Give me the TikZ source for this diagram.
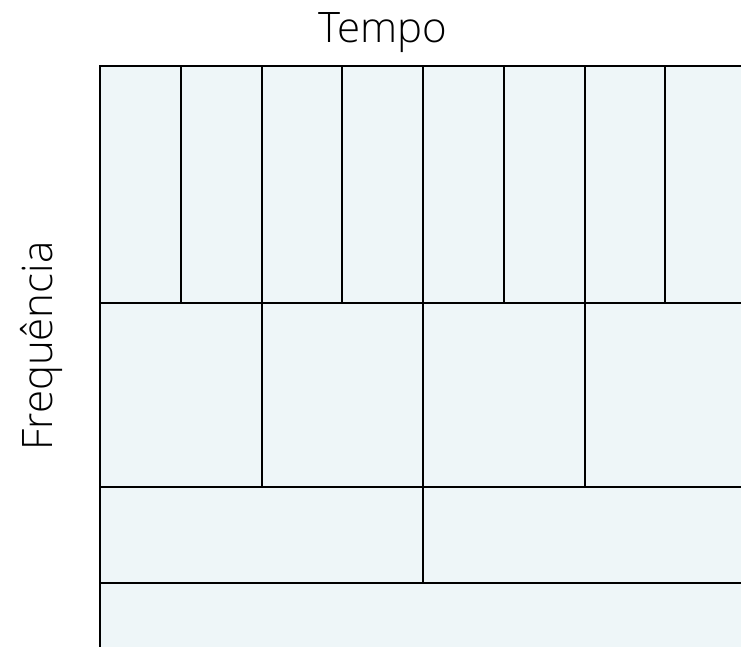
\documentclass[tikz,border=0pt]{standalone}
\usepackage{fontspec}
\setmainfont{Open Sans Light}
\definecolor{cellfill}{HTML}{EEF6F8}
\begin{document}
\begin{tikzpicture}[x=1pt,y=-1pt,
  cell/.style={fill=cellfill,draw=black,line width=2pt},
  lbl/.style={font=\fontsize{42}{50}\selectfont,inner sep=0pt}]
\useasboundingbox (0,0) rectangle (741,646);
\node[lbl] (tempo) at (383,33) {Tempo};
\node[lbl,rotate=90] (freq) at (41,346) {Frequência};
\begin{scope}
\clip (0,0) rectangle (741,646);
\foreach \i in {0,...,7}
  \draw[cell] ({100+80.75*\i},66) rectangle ({100+80.75*(\i+1)},303);
\foreach \i in {0,...,3}
  \draw[cell] ({100+161.5*\i},303) rectangle ({100+161.5*(\i+1)},487);
\foreach \i in {0,...,1}
  \draw[cell] ({100+323*\i},487) rectangle ({100+323*(\i+1)},583);
\draw[cell] (100,583) rectangle (746,660);
\end{scope}
\end{tikzpicture}
\end{document}
